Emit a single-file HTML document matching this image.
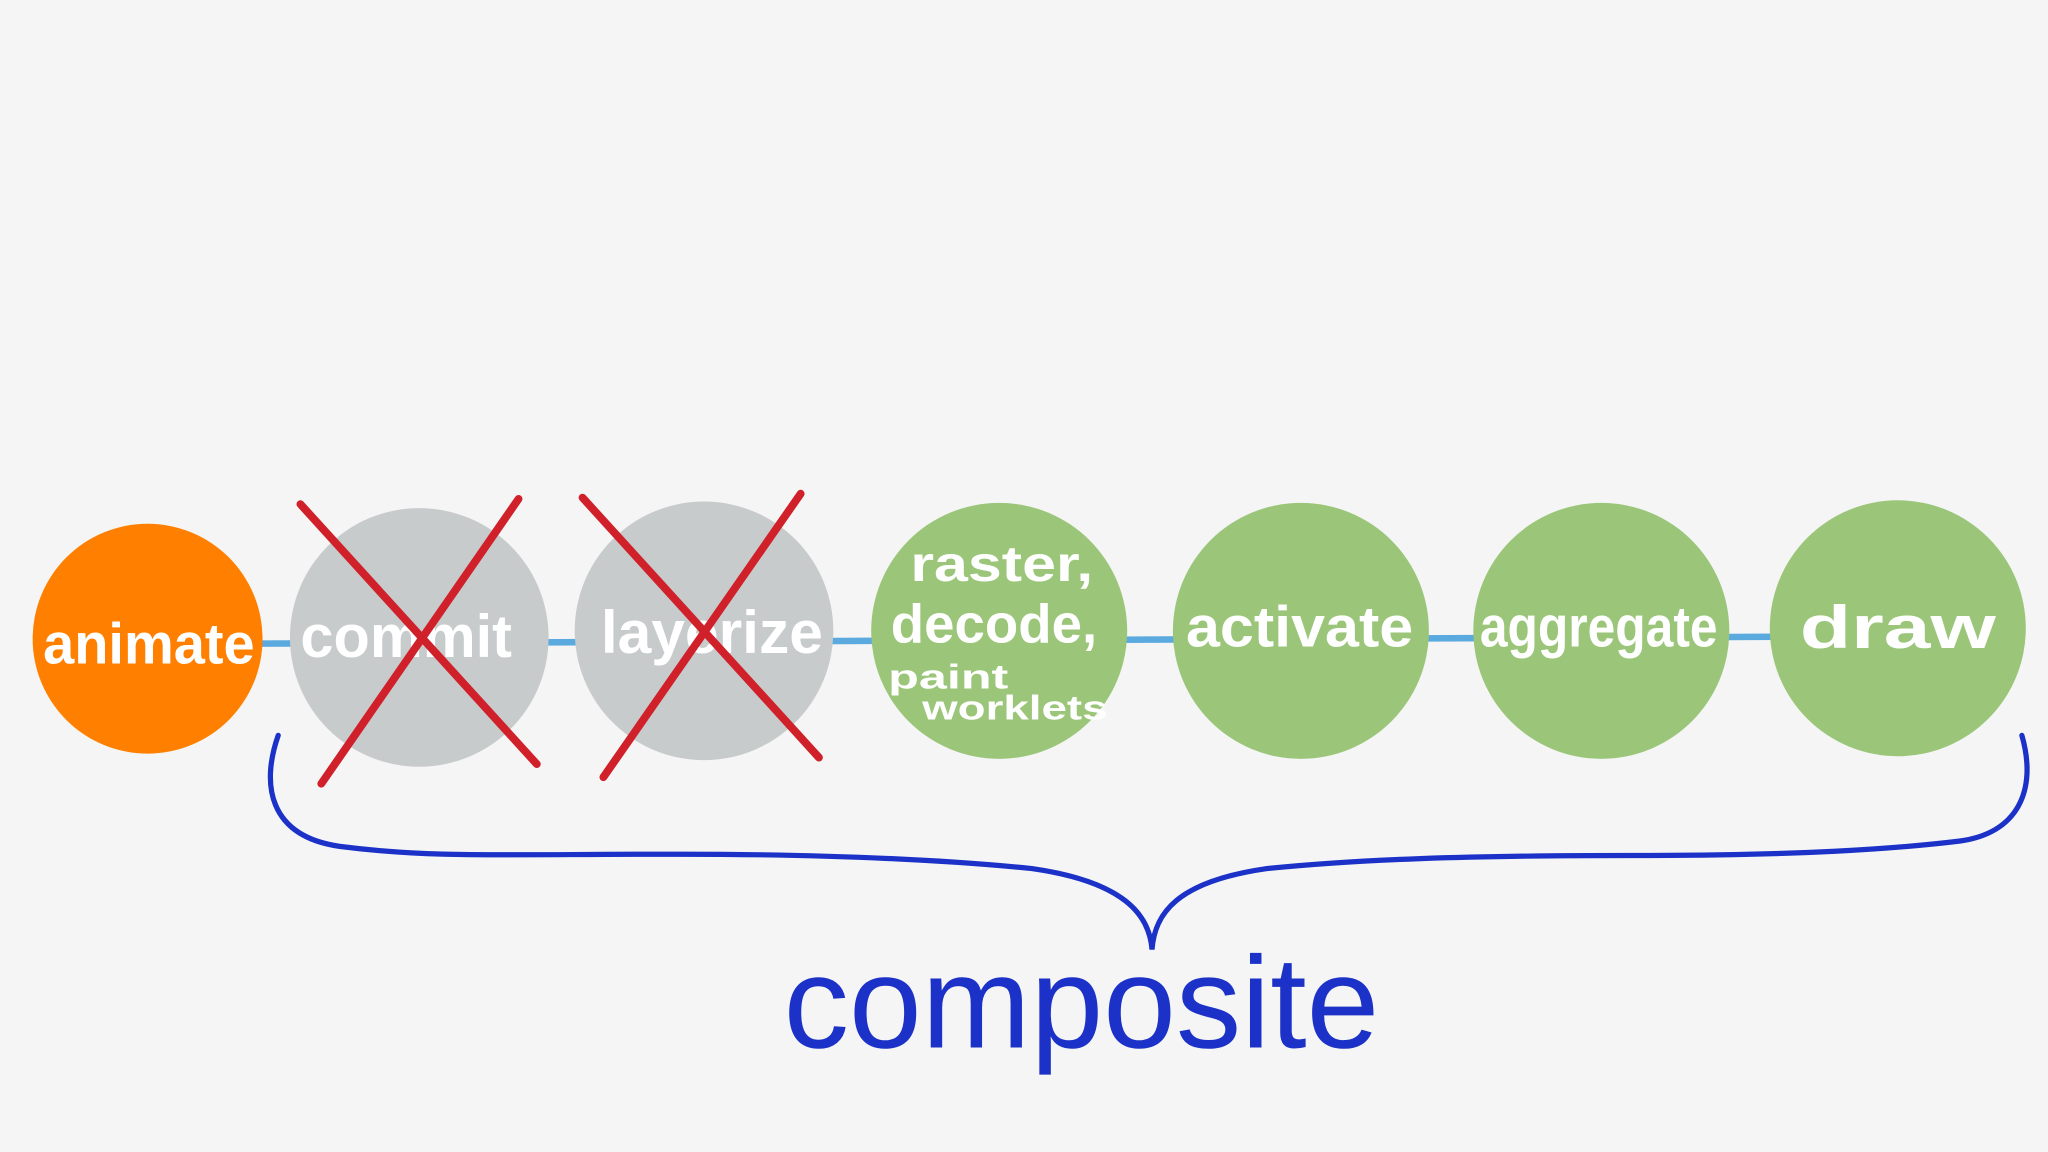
<!DOCTYPE html>
<html><head><meta charset="utf-8"><style>
html,body{margin:0;padding:0;background:#f4f5f4;}
svg{display:block}
text{font-family:"Liberation Sans",sans-serif;fill:#fff;font-weight:bold;}
</style></head><body>
<svg width="2048" height="1152" viewBox="0 0 1568 882" xmlns="http://www.w3.org/2000/svg">
<rect width="1568" height="882" fill="#f4f5f4"/>
<line x1="150" y1="493" x2="1480" y2="487" stroke="#5aa9df" stroke-width="5"/>
<circle cx="113" cy="489" r="88" fill="#ff8000"/>
<circle cx="321" cy="488" r="99" fill="#c7cbcb"/>
<circle cx="539" cy="483" r="99" fill="#c7cbcb"/>
<circle cx="765" cy="483" r="98" fill="#9bc67a"/>
<circle cx="996" cy="483" r="98" fill="#9bc67a"/>
<circle cx="1226" cy="483" r="98" fill="#9bc67a"/>
<circle cx="1453" cy="481" r="98" fill="#9bc67a"/>
<text x="33" y="508" font-size="44" textLength="162" lengthAdjust="spacingAndGlyphs">animate</text>
<text x="230" y="503" font-size="46" textLength="162" lengthAdjust="spacingAndGlyphs">commit</text>
<text x="460" y="500" font-size="46" textLength="170" lengthAdjust="spacingAndGlyphs">layerize</text>
<text x="697" y="445" font-size="38" textLength="140" lengthAdjust="spacingAndGlyphs">raster,</text>
<text x="682" y="492" font-size="42" textLength="158" lengthAdjust="spacingAndGlyphs">decode,</text>
<text x="680" y="527" font-size="26" textLength="92" lengthAdjust="spacingAndGlyphs">paint</text>
<text x="706" y="551" font-size="26" textLength="142" lengthAdjust="spacingAndGlyphs">worklets</text>
<text x="908" y="495" font-size="44" textLength="174" lengthAdjust="spacingAndGlyphs">activate</text>
<text x="1133" y="495" font-size="44" textLength="182" lengthAdjust="spacingAndGlyphs">aggregate</text>
<text x="1378" y="496" font-size="46" textLength="150" lengthAdjust="spacingAndGlyphs">draw</text>
<g stroke="#d0202a" stroke-width="6" stroke-linecap="round">
<line x1="230" y1="386" x2="411" y2="585"/>
<line x1="397" y1="382" x2="246" y2="600"/>
<line x1="446" y1="381" x2="627" y2="580"/>
<line x1="613" y1="378" x2="462" y2="595"/>
</g>
<path d="M213 563 C200 600 205 640 260 648 C330 657 380 654 520 654 C660 654 740 660 790 665 C860 675 880 700 882 727 C884 700 900 675 970 665 C1040 658 1120 655 1250 655 C1380 655 1450 650 1500 644 C1545 638 1560 605 1548 563" fill="none" stroke="#1b31c8" stroke-width="4" stroke-linecap="round"/>
<text x="600" y="802" font-size="100" textLength="456" lengthAdjust="spacingAndGlyphs" style="fill:#1b31c8;font-weight:normal">composite</text>
</svg>
</body></html>
